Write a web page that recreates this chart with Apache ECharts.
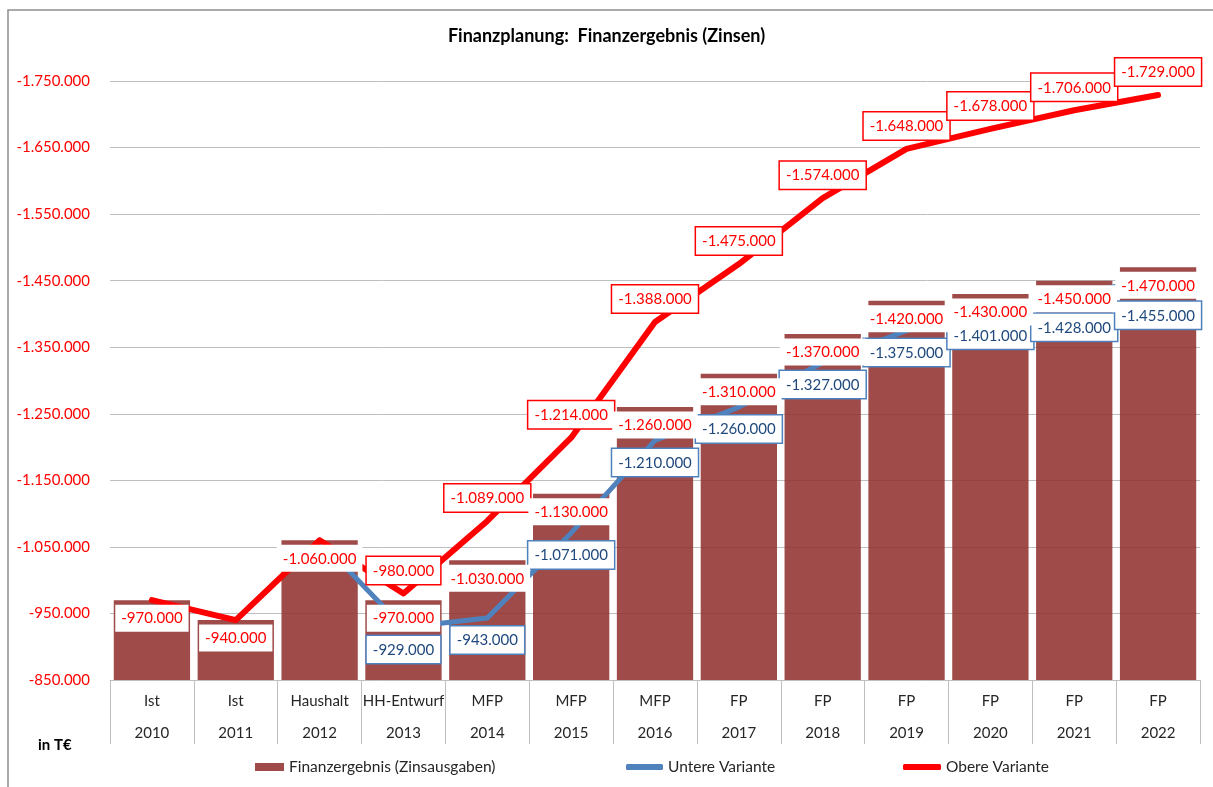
<!DOCTYPE html>
<html>
<head>
<meta charset="utf-8">
<script src="https://cdn.jsdelivr.net/npm/echarts@6/dist/echarts.min.js"></script>
<style>
html,body{margin:0;padding:0;background:#fff;}
#c{width:1213px;height:787px;}
</style>
</head>
<body>
<div id="c"></div>
<script>
// ---- data ----
const phases = ['Ist','Ist','Haushalt','HH-Entwurf','MFP','MFP','MFP','FP','FP','FP','FP','FP','FP'];
const years = ['2010','2011','2012','2013','2014','2015','2016','2017','2018','2019','2020','2021','2022'];
const finanzergebnis = [-970000,-940000,-1060000,-970000,-1030000,-1130000,-1260000,-1310000,-1370000,-1420000,-1430000,-1450000,-1470000];
const untereVariante = [-970000,-940000,-1060000,-929000,-943000,-1071000,-1210000,-1260000,-1327000,-1375000,-1401000,-1428000,-1455000];
const obereVariante = [-970000,-940000,-1060000,-980000,-1089000,-1214000,-1388000,-1475000,-1574000,-1648000,-1678000,-1706000,-1729000];
const yTicks = [-1750000,-1650000,-1550000,-1450000,-1350000,-1250000,-1150000,-1050000,-950000,-850000];

const seriesNames = ['Finanzergebnis (Zinsausgaben)','Untere Variante','Obere Variante'];

// ---- helpers ----
function fmt(v){
  const s = Math.abs(Math.round(v)).toString().replace(/\B(?=(\d{3})+(?!\d))/g,'.');
  return (v < 0 ? '-' : '') + s;
}
const FONT = 'Lato, "Open Sans", sans-serif';
const lowerLabelNudge = {11: 10, 12: 16};

const chart = echarts.init(document.getElementById('c'), null, {renderer:'canvas'});

const lowerData = untereVariante.map((v,i)=>({
  value: v,
  label: {show: v !== finanzergebnis[i], offset: [0, lowerLabelNudge[i] || 0]}
}));
const upperData = obereVariante.map((v,i)=>({
  value: v,
  label: {show: v !== finanzergebnis[i]}
}));

const boxLabel = {
  fontFamily: FONT, fontSize: 15, lineHeight: 18,
  backgroundColor: '#fff', padding: [5,6,4,6], opacity: 1,
  formatter: p => fmt(p.value)
};

const option = {
  animation: false,
  backgroundColor: '#fff',
  title: {
    text: 'Finanzplanung:  Finanzergebnis (Zinsen)',
    left: 'center', top: 27, padding: 0,
    textStyle: {fontFamily: FONT, fontSize: 18, fontWeight: 'bold', color: '#000'}
  },
  graphic: [
    {type:'rect', z: -10, shape:{x:8, y:10, width:1240, height:820}, style:{fill:'none', stroke:'#8f8f8f', lineWidth:1.5}},
    {type:'text', left: 38, top: 738, style:{text:'in T€', fontFamily: FONT, fontSize: 15, fontWeight:'bold', fill:'#000'}}
  ],
  legend: [
    {data:[{name: seriesNames[0], icon:'rect'}], left: 255, top: 759, padding: 0, itemWidth: 29, itemHeight: 8,
     selectedMode: false, itemStyle:{borderWidth:0}, textStyle:{fontFamily: FONT, fontSize: 15.5, color:'#262626'}},
    {data:[{name: seriesNames[1], icon:'roundRect'}], left: 626, top: 759, padding: 0, itemWidth: 37, itemHeight: 6,
     selectedMode: false, itemStyle:{borderWidth:0}, textStyle:{fontFamily: FONT, fontSize: 15.5, color:'#262626'}},
    {data:[{name: seriesNames[2], icon:'roundRect'}], left: 903, top: 759, padding: 0, itemWidth: 38, itemHeight: 6,
     selectedMode: false, itemStyle:{borderWidth:0}, textStyle:{fontFamily: FONT, fontSize: 15.5, color:'#262626'}}
  ],
  grid: {left: 110, right: 13, top: 81, bottom: 107, containLabel: false},
  xAxis: {
    type: 'category',
    data: phases.map((p,i)=> p + '\n' + years[i]),
    boundaryGap: true,
    axisLine: {show: true, lineStyle: {color: '#BFBFBF', width: 1}},
    axisTick: {show: true, interval: 0, length: 64, lineStyle: {color: '#BFBFBF', width: 1}},
    axisLabel: {interval: 0, margin: 5, lineHeight: 32, fontFamily: FONT, fontSize: 15, color: '#262626'},
    splitLine: {show: false}
  },
  yAxis: {
    type: 'value',
    inverse: true,
    min: yTicks[0],
    max: yTicks[yTicks.length-1],
    interval: 50000,
    axisLine: {show: false},
    axisTick: {show: false},
    axisLabel: {
      margin: 20, fontFamily: FONT, fontSize: 15, color: '#FF0000',
      formatter: v => yTicks.indexOf(v) >= 0 ? fmt(v) : ''
    },
    splitLine: {show: true, lineStyle: {color: ['#BFBFBF', 'rgba(0,0,0,0)'], width: 1}}
  },
  series: [
    {
      name: seriesNames[0], type: 'bar', data: finanzergebnis,
      barCategoryGap: '9%', clip: true, z: 2,
      itemStyle: {color: 'rgba(145,50,48,0.88)'},
      emphasis: {disabled: true}, silent: true
    },
    {
      name: seriesNames[1], type: 'line', data: lowerData, z: 3,
      symbol: 'circle', symbolSize: 1, showSymbol: true,
      itemStyle: {color: '#4F81BD'},
      lineStyle: {color: '#4F81BD', width: 5, cap: 'round', join: 'round'},
      label: Object.assign({}, boxLabel, {position: 'bottom', distance: 8, color: '#1F497D', borderColor: '#4F81BD', borderWidth: 1.5}),
      emphasis: {disabled: true}, silent: true
    },
    {
      name: seriesNames[2], type: 'line', data: upperData, z: 4,
      symbol: 'circle', symbolSize: 1, showSymbol: true,
      itemStyle: {color: '#FF0000'},
      lineStyle: {color: '#FF0000', width: 6, cap: 'round', join: 'round'},
      label: Object.assign({}, boxLabel, {position: 'top', distance: 9, color: '#FF0000', borderColor: '#FF0000', borderWidth: 1.5}),
      emphasis: {disabled: true}, silent: true
    },
    {
      name: 'Beschriftung', type: 'scatter', data: finanzergebnis, z: 6,
      symbol: 'circle', symbolSize: 1,
      itemStyle: {color: 'rgba(0,0,0,0)', opacity: 1},
      label: Object.assign({}, boxLabel, {show: true, position: 'bottom', distance: 4, color: '#FF0000'}),
      emphasis: {disabled: true}, silent: true
    }
  ]
};
chart.setOption(option);
</script>
</body>
</html>
